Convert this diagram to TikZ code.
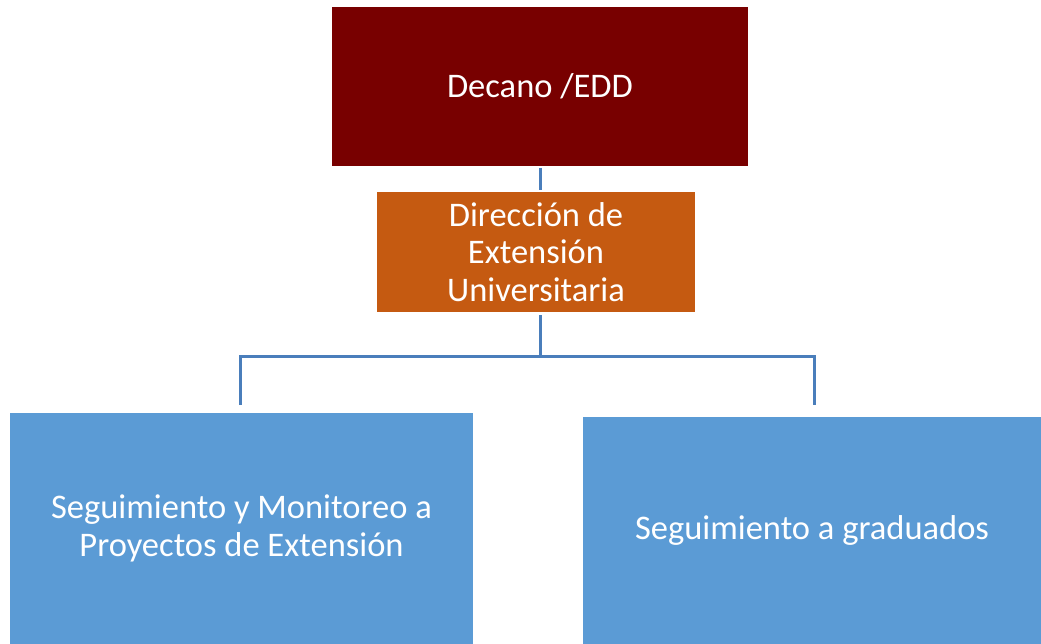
\documentclass[tikz,border=0pt]{standalone}
\usepackage{fontspec}
\setmainfont{Carlito}
\definecolor{deanred}{HTML}{780000}
\definecolor{dirorange}{HTML}{C55A11}
\definecolor{unitblue}{HTML}{5B9BD5}
\definecolor{linkblue}{HTML}{4A7EBB}
\begin{document}
\begin{tikzpicture}[x=1pt,y=-1pt,
  box/.style={draw=none, inner sep=0pt, text=white, align=center,
    font=\fontsize{34.5}{37.5}\selectfont},
  link/.style={draw=linkblue, line width=3pt}]
\useasboundingbox (0,0) rectangle (1041,644);
\node[box, fill=deanred, minimum width=416pt, minimum height=159pt] (dean) at (540,86.5) {Decano /EDD};
\node[box, fill=dirorange, minimum width=318pt, minimum height=120pt] (dir) at (536,252) {Dirección de\\Extensión\\Universitaria};
\node[box, fill=unitblue, minimum width=463pt, minimum height=231pt] (seg) at (241.5,528.5) {Seguimiento y Monitoreo a\\Proyectos de Extensión};
\node[box, fill=unitblue, minimum width=458pt, minimum height=227pt] (grad) at (812,530.5) {Seguimiento a graduados};
\coordinate (a1) at (540,168);
\coordinate (a2) at (540,190);
\coordinate (b1) at (540,315);
\coordinate (j) at (540,356);
\coordinate (jl) at (240,356);
\coordinate (jr) at (814,356);
\coordinate (el) at (240,405);
\coordinate (er) at (814,405);
\draw[link] (a1) -- (a2);
\draw[link] (b1) -- (j);
\draw[link] (el) -- (jl) -- (jr) -- (er);
\end{tikzpicture}
\end{document}
